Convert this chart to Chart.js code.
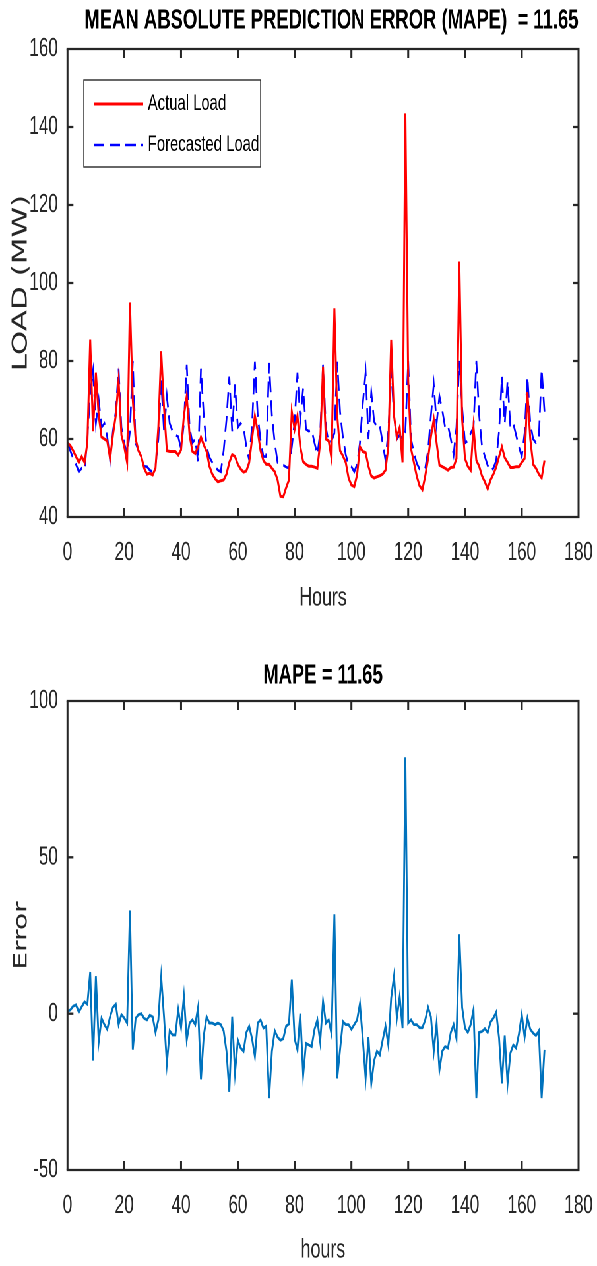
<!DOCTYPE html>
<html>
<head>
<meta charset="utf-8">
<title>Load forecast and error</title>
<script src="https://cdn.jsdelivr.net/npm/chart.js@4.4.1/dist/chart.umd.min.js"></script>
<style>
  html, body { margin: 0; padding: 0; background: #fff; overflow: hidden; }
  /* the original figure is squeezed sideways, so draw wide and scale down in x */
  #page { width: 905px; height: 1266px; transform: scaleX(0.6597); transform-origin: 0 0; }
  .box { width: 905px; height: 633px; }
</style>
</head>
<body>
<div id="page">
  <div class="box"><canvas id="loadChart" width="905" height="633"></canvas></div>
  <div class="box"><canvas id="errChart" width="905" height="633"></canvas></div>
</div>
<script>
// hourly values, hour 0 .. 168
const actualLoad = [
  59, 58.3, 57, 55.5, 54, 55.5, 54, 59, 85.5, 62,
  77, 66, 60.5, 60, 59.5, 55, 61, 66, 75, 61,
  58, 54, 95, 70, 60, 57, 55.5, 52.5, 51, 51.2,
  50.8, 52.5, 63, 82.5, 68, 57, 56.8, 56.8, 56.8, 55.9,
  57.2, 66, 71, 61, 56.8, 56.3, 58, 60.5, 58.5, 56.8,
  53, 51, 49.8, 49, 49.3, 49.5, 51, 54, 56, 55.5,
  53.5, 52.3, 51.5, 51.8, 54, 60, 66, 62, 57, 54.5,
  53.5, 53.5, 52.5, 51.6, 49.5, 45.3, 45.2, 47.5, 49.5, 67,
  62.5, 66, 58, 54.2, 53.5, 53, 53, 52.8, 52.5, 59,
  78.5, 60, 59.5, 55, 93.5, 66, 57, 55.7, 54, 50,
  48.2, 47.8, 50.8, 58, 56.8, 56.5, 53, 50.5, 50, 50.3,
  50.6, 51, 52, 58, 85.4, 66, 60.5, 63, 54, 143.5,
  75, 57.5, 54, 50.5, 48, 47, 50.5, 55, 60.6, 65,
  59, 53.3, 52.9, 52.5, 52, 52.7, 52.8, 55, 105.5, 65,
  55, 53, 52, 63, 54.5, 53, 50.5, 49, 47.2, 49.5,
  51, 52.8, 55.5, 58, 55.2, 54, 52.7, 52.7, 52.9, 52.9,
  54, 55, 72, 60, 53.5, 52.5, 51, 50, 54.5
];
const forecastLoad = [
  59, 57, 55, 53.5, 51.6, 52.5, 52, 60, 72, 77.5,
  64, 70, 63, 64, 60.6, 54.6, 62, 67, 78, 63,
  58.9, 56, 62, 80, 59, 57, 55.5, 53, 52.9, 52,
  51.6, 53, 60, 75, 62, 71, 64, 62, 61, 60.6,
  57.5, 64, 79, 63, 59, 60, 54, 78, 66, 58,
  55.3, 54, 52.9, 52, 51.6, 57, 65, 76, 62, 74,
  63, 64, 63, 58, 54.6, 63.5, 79.8, 66, 59.7, 55.5,
  55.5, 79.5, 66, 59, 54, 53.5, 53.3, 52.8, 52.5, 58,
  64.5, 77, 65, 73, 62.5, 62, 62.3, 59, 56, 61.5,
  79, 63, 59, 59.5, 61.5, 79.8, 67, 60.5, 56, 53.3,
  52.9, 51.6, 53.5, 59, 69, 77, 60, 72, 64.5, 63,
  63.4, 59, 54.6, 62, 78, 66, 60, 61, 60, 62,
  80, 60, 56.5, 53.8, 52.3, 52, 52.5, 57, 66, 74,
  64, 71, 67.4, 63, 63.5, 60, 56, 63, 80, 68,
  59, 59.5, 61.5, 63, 80, 66, 58, 55.5, 53.2, 51.8,
  52.5, 54.5, 62, 76, 64, 75, 63, 64, 61, 58,
  55.5, 61.5, 76, 64, 60, 59, 60, 78, 67
];
const errorValues = [
  0.7, 1.2, 2.4, 2.8, 0.5, 2.2, 3.8, 3, 13.3, -15,
  12, -9, -1.5, -3.5, -5, -1, 2, 3, -3.5, -0.3,
  -1.4, -3, 33, -11.5, -1.5, -0.3, 0, -1.5, -2, -0.5,
  -1, -6, -2, 11.8, -1, -16, -5.5, -6.8, -6.8, 1.3,
  -4.5, 5.6, -8.4, -3, -2, -3.5, 2, -21, -7, -1,
  -3, -3, -3.5, -3, -3.5, -5.5, -12, -25, -1, -19,
  -8.5, -11, -12, -6, -4, -8, -13.7, -3, -2, -4.6,
  -4, -27, -12, -5.5, -7.5, -8.5, -8, -4, -3.3, 10.9,
  -8, -11.6, 0, -19.6, -9.5, -10, -10.5, -5, -2, -9,
  4, -3, -2, -6.5, 31.8, -20.7, -11.5, -2.5, -3.5, -3.5,
  -5, -3.5, -2, 3.2, -8, -20.7, -7.5, -22.3, -15, -12,
  -13.2, -8.5, -4, -10, 5, 12, -1.4, 5.5, -4.6, 82,
  -3, -2, -3.5, -3.5, -4.5, -4.5, -2, 2, -1, -12,
  -3, -18, -12, -10.5, -11, -6, -3.5, -8, 25.4, 2,
  -4.6, -6, -3.5, 1.3, -27, -6, -5.7, -4.8, -6, -2.7,
  -1.4, 0.5, -7.8, -22.3, -7, -22.3, -12.6, -10, -11, -6.5,
  -0.3, -7.5, -1.4, -5, -6.2, -7, -5.5, -27, -11.6
];
const hourTicks = [0, 20, 40, 60, 80, 100, 120, 140, 160, 180];
const loadTicks = [40, 60, 80, 100, 120, 140, 160];
const errorTicks = [-50, 0, 50, 100];

const hours = actualLoad.map((_, i) => i);
const pts = vals => vals.map((v, i) => ({ x: hours[i], y: v }));

Chart.defaults.font.family = '"Liberation Sans", Arial, sans-serif';
Chart.defaults.color = '#262626';

const AXIS = '#262626';

// MATLAB style box with ticks pointing inwards on all four sides
const framePlugin = {
  id: 'frame',
  afterDraw(chart) {
    const { ctx, chartArea: a, scales: { x, y } } = chart;
    const len = 9;
    ctx.save();
    ctx.strokeStyle = AXIS;
    ctx.lineWidth = 3;
    ctx.beginPath();
    x.ticks.forEach(t => {
      const px = x.getPixelForValue(t.value);
      ctx.moveTo(px, a.bottom); ctx.lineTo(px, a.bottom - len);
      ctx.moveTo(px, a.top); ctx.lineTo(px, a.top + len);
    });
    ctx.moveTo(a.left, a.top); ctx.lineTo(a.left, a.bottom);
    ctx.moveTo(a.right, a.top); ctx.lineTo(a.right, a.bottom);
    ctx.stroke();
    ctx.lineWidth = 2.3;
    ctx.beginPath();
    y.ticks.forEach(t => {
      const py = y.getPixelForValue(t.value);
      ctx.moveTo(a.left, py); ctx.lineTo(a.left + len, py);
      ctx.moveTo(a.right, py); ctx.lineTo(a.right - len, py);
    });
    ctx.moveTo(a.left - 1.5, a.top); ctx.lineTo(a.right + 1.5, a.top);
    ctx.moveTo(a.left - 1.5, a.bottom); ctx.lineTo(a.right + 1.5, a.bottom);
    ctx.stroke();
    ctx.restore();
  }
};

// boxed legend in the upper left of the top axes
const legendPlugin = {
  id: 'boxLegend',
  afterDraw(chart) {
    const { ctx } = chart;
    const left = 127, top = 80, w = 268, h = 87;
    const rows = [104, 145];
    ctx.save();
    ctx.fillStyle = '#fff';
    ctx.fillRect(left, top, w, h);
    ctx.strokeStyle = AXIS;
    ctx.lineWidth = 1.4;
    ctx.strokeRect(left, top, w, h);
    ctx.font = '22.5px "Liberation Sans", Arial, sans-serif';
    ctx.textBaseline = 'middle';
    ctx.fillStyle = '#000';
    chart.data.datasets.forEach((ds, i) => {
      ctx.strokeStyle = ds.borderColor;
      ctx.lineWidth = ds.borderWidth;
      ctx.setLineDash(ds.borderDash || []);
      ctx.beginPath();
      ctx.moveTo(142, rows[i]);
      ctx.lineTo(217, rows[i]);
      ctx.stroke();
      ctx.setLineDash([]);
      ctx.fillText(ds.label, 224, rows[i]);
    });
    ctx.restore();
  }
};

function makeOptions(o) {
  return {
    responsive: false,
    devicePixelRatio: 2,
    animation: false,
    layout: { padding: { left: 0, right: 28, top: 0, bottom: 0 } },
    elements: { point: { radius: 0 }, line: { tension: 0 } },
    plugins: {
      legend: { display: false },
      tooltip: { enabled: false },
      title: {
        display: true, text: o.title, fullSize: false, color: '#000', align: o.titleAlign,
        font: { size: 28, weight: 'bold' }, padding: o.titlePad
      }
    },
    scales: {
      x: {
        type: 'linear', min: 0, max: 180,
        // invisible tick marks push the labels down without widening the side padding
        grid: { display: true, drawOnChartArea: false, drawTicks: true, tickLength: 20, color: 'rgba(0,0,0,0)' },
        border: { display: false },
        afterBuildTicks: s => { s.ticks = hourTicks.map(v => ({ value: v })); },
        afterFit: s => { s.height = o.xHeight; },
        ticks: { font: { size: 26 }, padding: 0, maxRotation: 0, autoSkip: false },
        title: { display: true, text: o.xTitle, font: { size: 27 }, padding: { top: 0, bottom: o.xTitleBottom } }
      },
      y: {
        min: o.yMin, max: o.yMax,
        grid: { display: false }, border: { display: false },
        afterBuildTicks: s => { s.ticks = o.yTicks.map(v => ({ value: v })); },
        afterFit: s => { s.width = 102.3; },
        ticks: { font: { size: 26 }, padding: 6.5, autoSkip: false },
        title: { display: true, text: o.yTitle, font: o.yTitleFont, padding: { top: o.yTitleTop, bottom: 0 } }
      }
    }
  };
}

new Chart(document.getElementById('loadChart'), {
  type: 'line',
  data: {
    datasets: [
      { label: 'Actual Load', data: pts(actualLoad), borderColor: '#ff0000', borderWidth: 3 },
      { label: 'Forecasted Load', data: pts(forecastLoad), borderColor: '#0000ff', borderWidth: 2.6, borderDash: [16, 8] }
    ]
  },
  options: makeOptions({
    title: 'MEAN ABSOLUTE PREDICTION ERROR (MAPE)  = 11.65', titleAlign: 'end',
    titlePad: { top: 4, bottom: 11.4 },
    xHeight: 116, xTitle: 'Hours', xTitleBottom: 19,
    yMin: 40, yMax: 160, yTicks: loadTicks,
    yTitle: 'LOAD (MW)', yTitleFont: { family: '"DejaVu Sans", sans-serif', size: 31 }, yTitleTop: 14
  }),
  plugins: [framePlugin, legendPlugin]
});

new Chart(document.getElementById('errChart'), {
  type: 'line',
  data: {
    datasets: [
      { label: 'Error', data: pts(errorValues), borderColor: '#0072bd', borderWidth: 2.8 }
    ]
  },
  options: makeOptions({
    title: 'MAPE = 11.65', titleAlign: 'center',
    titlePad: { top: 26, bottom: 8.4 },
    xHeight: 96, xTitle: 'hours', xTitleBottom: 0,
    yMin: -50, yMax: 100, yTicks: errorTicks,
    yTitle: 'Error', yTitleFont: { family: '"DejaVu Sans", sans-serif', size: 28 }, yTitleTop: 16
  }),
  plugins: [framePlugin]
});
</script>
</body>
</html>
